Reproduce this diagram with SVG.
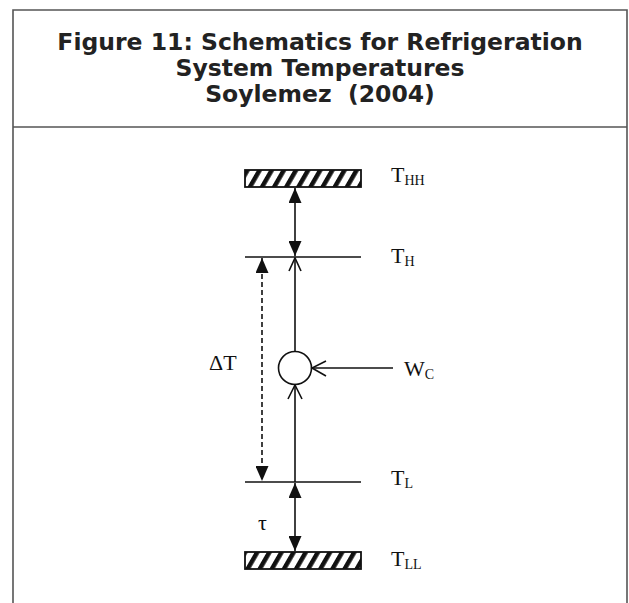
<svg xmlns="http://www.w3.org/2000/svg" width="629" height="603" viewBox="0 0 629 603">
<style>
.frame{fill:none;stroke:#555;stroke-width:1.6}
.title{font-family:"DejaVu Sans",Verdana,sans-serif;font-weight:bold;font-size:23.5px;fill:#222;text-anchor:middle}
.lab{font-family:"Liberation Serif","Times New Roman",serif;font-size:22px;fill:#111}
.sub{font-size:14px}
.ln{stroke:#111;stroke-width:1.6;fill:none}
.hatch{fill:url(#hp);stroke:#111;stroke-width:1.8}
</style>
<defs>
<pattern id="hp" width="10.5" height="10.5" patternUnits="userSpaceOnUse" patternTransform="translate(245,170) rotate(30)">
<rect width="10.5" height="10.5" fill="#fff"/>
<rect x="0" y="0" width="4.5" height="10.5" fill="#111"/>
</pattern>
<marker id="fa" viewBox="0 0 15 13" refX="15" refY="6.5" markerWidth="15" markerHeight="13" markerUnits="userSpaceOnUse" orient="auto-start-reverse">
<path d="M0,0 L15,6.5 L0,13 Z" fill="#111"/>
</marker>
</defs>
<g id="frame">
<path class="frame" d="M13,603 V10 H627 V603"/>
<line class="frame" x1="13" y1="127" x2="627" y2="127"/>
</g>
<g id="title">
<text class="title" x="320" y="50">Figure 11: Schematics for Refrigeration</text>
<text class="title" x="320" y="76">System Temperatures</text>
<text class="title" x="320" y="102" xml:space="preserve">Soylemez  (2004)</text>
</g>
<g id="reservoir-high"><rect class="hatch" x="245" y="170" width="116" height="17"/></g>
<g id="level-high"><line class="ln" x1="245" y1="257" x2="361" y2="257"/></g>
<g id="level-low"><line class="ln" x1="245" y1="482" x2="361" y2="482"/></g>
<g id="reservoir-low"><rect class="hatch" x="245" y="552" width="116" height="17"/></g>
<g id="compressor"><circle cx="295" cy="368" r="16.5" fill="none" stroke="#111" stroke-width="1.6"/></g>
<g id="connectors">
<line class="ln" x1="295" y1="188" x2="295" y2="256" marker-start="url(#fa)" marker-end="url(#fa)"/>
<line class="ln" x1="295" y1="483" x2="295" y2="551" marker-start="url(#fa)" marker-end="url(#fa)"/>
<line class="ln" x1="262" y1="258" x2="262" y2="481" stroke-dasharray="5,3" marker-start="url(#fa)" marker-end="url(#fa)"/>
<line class="ln" x1="295" y1="351.5" x2="295" y2="258"/>
<path class="ln" d="M289,271 L295,258 L301,271"/>
<line class="ln" x1="295" y1="482" x2="295" y2="385"/>
<path class="ln" d="M288,399 L295,385 L302,399"/>
<line class="ln" x1="393" y1="368" x2="312" y2="368"/>
<path class="ln" d="M326,361 L312,368 L326,376"/>
</g>
<g id="labels">
<text class="lab" x="391" y="182">T<tspan class="sub" dy="3">HH</tspan></text>
<text class="lab" x="391" y="263">T<tspan class="sub" dy="3">H</tspan></text>
<text class="lab" x="391" y="485">T<tspan class="sub" dy="3">L</tspan></text>
<text class="lab" x="391" y="566">T<tspan class="sub" dy="3">LL</tspan></text>
<text class="lab" x="404" y="376">W<tspan class="sub" dy="3">C</tspan></text>
<text class="lab" x="209" y="370">ΔT</text>
<text class="lab" x="258" y="530">τ</text>
</g>
</svg>
